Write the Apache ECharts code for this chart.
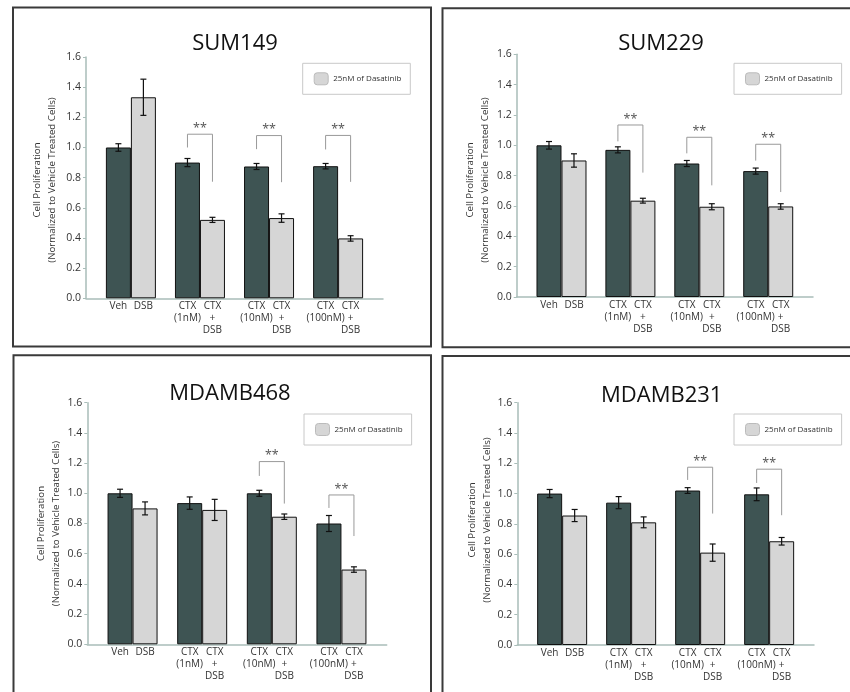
<!DOCTYPE html>
<html><head><meta charset="utf-8">
<script src="https://cdn.jsdelivr.net/npm/echarts@6/dist/echarts.min.js"></script>
<style>html,body{margin:0;padding:0;background:#fff}#c{width:850px;height:692px}</style>
</head><body><div id="c"></div>
<script>
// ---------- DATA ----------
const panelTitles = ['SUM149', 'SUM229', 'MDAMB468', 'MDAMB231'];
const groupPos = [0, 1, 2, 3];
const darkLabels = ['Veh', 'CTX\n(1nM)', 'CTX\n(10nM)', 'CTX\n(100nM)'];
const lightLabels = ['DSB', 'CTX\n+\nDSB', 'CTX\n+\nDSB', 'CTX\n+\nDSB'];
const legendName = '25nM of Dasatinib';
const yAxisName = 'Cell Proliferation\n(Normalized to Vehicle Treated Cells)';
const sigMark = '**';

const sum149Dark = [1.0, 0.90, 0.874, 0.876];
const sum149DarkErr = [0.025, 0.027, 0.02, 0.018];
const sum149Light = [1.333, 0.52, 0.532, 0.397];
const sum149LightErr = [0.12, 0.017, 0.028, 0.018];
const sum149Sig = [[1, 1.088, 1.0, 0.773], [2, 1.079, 0.989, 0.77], [3, 1.08, 0.987, 0.772]];

const sum229Dark = [1.0, 0.97, 0.88, 0.83];
const sum229DarkErr = [0.025, 0.02, 0.02, 0.02];
const sum229Light = [0.9, 0.635, 0.595, 0.597];
const sum229LightErr = [0.044, 0.016, 0.02, 0.018];
const sum229Sig = [[1, 1.134, 1.026, 0.82], [2, 1.053, 0.947, 0.736], [3, 1.007, 0.899, 0.692]];

const mdamb468Dark = [1.0, 0.935, 1.0, 0.80];
const mdamb468DarkErr = [0.027, 0.041, 0.02, 0.053];
const mdamb468Light = [0.90, 0.89, 0.845, 0.495];
const mdamb468LightErr = [0.043, 0.07, 0.018, 0.018];
const mdamb468Sig = [[2, 1.21, 1.115, 0.932], [3, 0.989, 0.903, 0.717]];

const mdamb231Dark = [1.0, 0.94, 1.02, 0.995];
const mdamb231DarkErr = [0.027, 0.04, 0.019, 0.042];
const mdamb231Light = [0.855, 0.81, 0.61, 0.685];
const mdamb231LightErr = [0.04, 0.036, 0.057, 0.025];
const mdamb231Sig = [[2, 1.174, 1.09, 0.868], [3, 1.161, 1.07, 0.857]];

// ---------- LAYOUT ----------
const FONT = 'Open Sans';
const panels = [
  {dark: sum149Dark, darkErr: sum149DarkErr, light: sum149Light, lightErr: sum149LightErr, sig: sum149Sig,
   grid: {left: 86, top: 57, width: 297, height: 241.3}, box: [13, 7.5, 418, 339], title: [235, 44],
   yname: [44.5, 180], legend: [302.7, 63.3]},
  {dark: sum229Dark, darkErr: sum229DarkErr, light: sum229Light, lightErr: sum229LightErr, sig: sum229Sig,
   grid: {left: 516.7, top: 54.3, width: 296.3, height: 242.7}, box: [442.5, 8.3, 440, 339], title: [661, 44],
   yname: [478.2, 180], legend: [734, 63.3]},
  {dark: mdamb468Dark, darkErr: mdamb468DarkErr, light: mdamb468Light, lightErr: mdamb468LightErr, sig: mdamb468Sig,
   grid: {left: 87.3, top: 402.7, width: 299.4, height: 241.6}, box: [13.5, 355.3, 417.5, 360], title: [230, 393.5],
   yname: [48.3, 523.5], legend: [304, 414]},
  {dark: mdamb231Dark, darkErr: mdamb231DarkErr, light: mdamb231Light, lightErr: mdamb231LightErr, sig: mdamb231Sig,
   grid: {left: 517.3, top: 402.7, width: 296.7, height: 242.3}, box: [442.5, 356, 440, 360], title: [661.7, 396],
   yname: [480.2, 520], legend: [734, 414]}
];

const DARK = '#3e5453', LIGHT = '#d6d6d6', AXIS = '#a9bdb9';
const BAR_W = 25;

function errRender(offset) {
  return function (params, api) {
    const x = api.value(0), v = api.value(1), e = api.value(2);
    const hi = api.coord([x, v + e]), lo = api.coord([x, v - e]);
    const cx = hi[0] + offset, cap = 3;
    const st = {stroke: '#111', lineWidth: 1.2};
    return {type: 'group', children: [
      {type: 'line', shape: {x1: cx, y1: hi[1], x2: cx, y2: lo[1]}, style: st},
      {type: 'line', shape: {x1: cx - cap, y1: hi[1], x2: cx + cap, y2: hi[1]}, style: st},
      {type: 'line', shape: {x1: cx - cap, y1: lo[1], x2: cx + cap, y2: lo[1]}, style: st}
    ]};
  };
}
function sigRender(params, api) {
  const g = api.value(0), top = api.value(1), lb = api.value(2), rb = api.value(3);
  const pt = api.coord([g, top]), pl = api.coord([g, lb]), pr = api.coord([g, rb]);
  const xl = pt[0] - BAR_W / 2, xr = pt[0] + BAR_W / 2;
  return {type: 'group', children: [
    {type: 'polyline', shape: {points: [[xl, pl[1]], [xl, pt[1]], [xr, pt[1]], [xr, pr[1]]]},
     style: {stroke: '#999', lineWidth: 1, fill: 'none'}},
    {type: 'text', x: pt[0], y: pt[1] - 6,
     style: {text: sigMark, fill: '#555', fontSize: 12.5, fontFamily: FONT, align: 'center', verticalAlign: 'middle'}}
  ]};
}

const grids = [], xAxes = [], yAxes = [], series = [], legends = [], graphics = [];
const labelStyle = {show: true, position: 'bottom', distance: 2, color: '#333', fontSize: 10,
  lineHeight: 12, fontFamily: FONT, align: 'center'};

panels.forEach((p, k) => {
  grids.push(Object.assign({containLabel: false}, p.grid));
  xAxes.push({type: 'value', gridIndex: k, min: -0.65, max: 3.65,
    axisLine: {show: true, onZero: false, lineStyle: {color: AXIS, width: 1.5}}, axisTick: {show: false},
    axisLabel: {show: false}, splitLine: {show: false}});
  yAxes.push({type: 'value', gridIndex: k, min: 0, max: 1.6, interval: 0.2,
    axisLine: {show: true, onZero: false, lineStyle: {color: AXIS, width: 1.5}},
    axisTick: {show: true, length: 3, lineStyle: {color: AXIS}},
    axisLabel: {color: '#333', fontSize: 10.5, fontFamily: FONT, margin: 5, formatter: v => v.toFixed(1)},
    splitLine: {show: false}});
  series.push({type: 'bar', name: 'Control', xAxisIndex: k, yAxisIndex: k, barWidth: BAR_W, barGap: '0%',
    itemStyle: {color: DARK, borderColor: '#111', borderWidth: 1},
    data: groupPos.map((g, i) => ({value: [g, p.dark[i]], label: Object.assign({}, labelStyle, {formatter: darkLabels[i]})}))});
  series.push({type: 'bar', name: legendName, xAxisIndex: k, yAxisIndex: k, barWidth: BAR_W, barGap: '0%',
    itemStyle: {color: LIGHT, borderColor: '#111', borderWidth: 1},
    data: groupPos.map((g, i) => ({value: [g, p.light[i]], label: Object.assign({}, labelStyle, {formatter: lightLabels[i]})}))});
  series.push({type: 'custom', xAxisIndex: k, yAxisIndex: k, z: 5, renderItem: errRender(-BAR_W / 2),
    encode: {x: 0, y: 1}, data: groupPos.map((g, i) => [g, p.dark[i], p.darkErr[i]])});
  series.push({type: 'custom', xAxisIndex: k, yAxisIndex: k, z: 5, renderItem: errRender(BAR_W / 2),
    encode: {x: 0, y: 1}, data: groupPos.map((g, i) => [g, p.light[i], p.lightErr[i]])});
  series.push({type: 'custom', xAxisIndex: k, yAxisIndex: k, z: 5, renderItem: sigRender,
    encode: {x: 0, y: 1}, data: p.sig});
  legends.push({data: [legendName], left: p.legend[0], top: p.legend[1], orient: 'horizontal',
    padding: [9, 9, 9, 11], borderColor: '#c8c8c8', borderWidth: 1, itemWidth: 14, itemHeight: 12, itemGap: 4,
    itemStyle: {borderColor: '#bbb', borderWidth: 1},
    textStyle: {fontSize: 8, color: '#333', fontFamily: FONT}, selectedMode: false});
  graphics.push({type: 'rect', shape: {x: p.box[0], y: p.box[1], width: p.box[2], height: p.box[3]},
    style: {fill: 'none', stroke: '#3a3a3a', lineWidth: 2}, z: 100});
  graphics.push({type: 'text', x: p.title[0], y: p.title[1],
    style: {text: panelTitles[k], fontSize: 22, fontFamily: FONT, fill: '#111', align: 'center', verticalAlign: 'middle'}});
  graphics.push({type: 'text', x: p.yname[0], y: p.yname[1], rotation: Math.PI / 2,
    style: {text: yAxisName, fontSize: 9.7, lineHeight: 15, fontFamily: FONT, fill: '#333', align: 'center', verticalAlign: 'middle'}});
});

const chart = echarts.init(document.getElementById('c'), null, {renderer: 'canvas'});
chart.setOption({
  animation: false,
  backgroundColor: '#fff',
  grid: grids, xAxis: xAxes, yAxis: yAxes, series: series, legend: legends, graphic: graphics
});
</script></body></html>
